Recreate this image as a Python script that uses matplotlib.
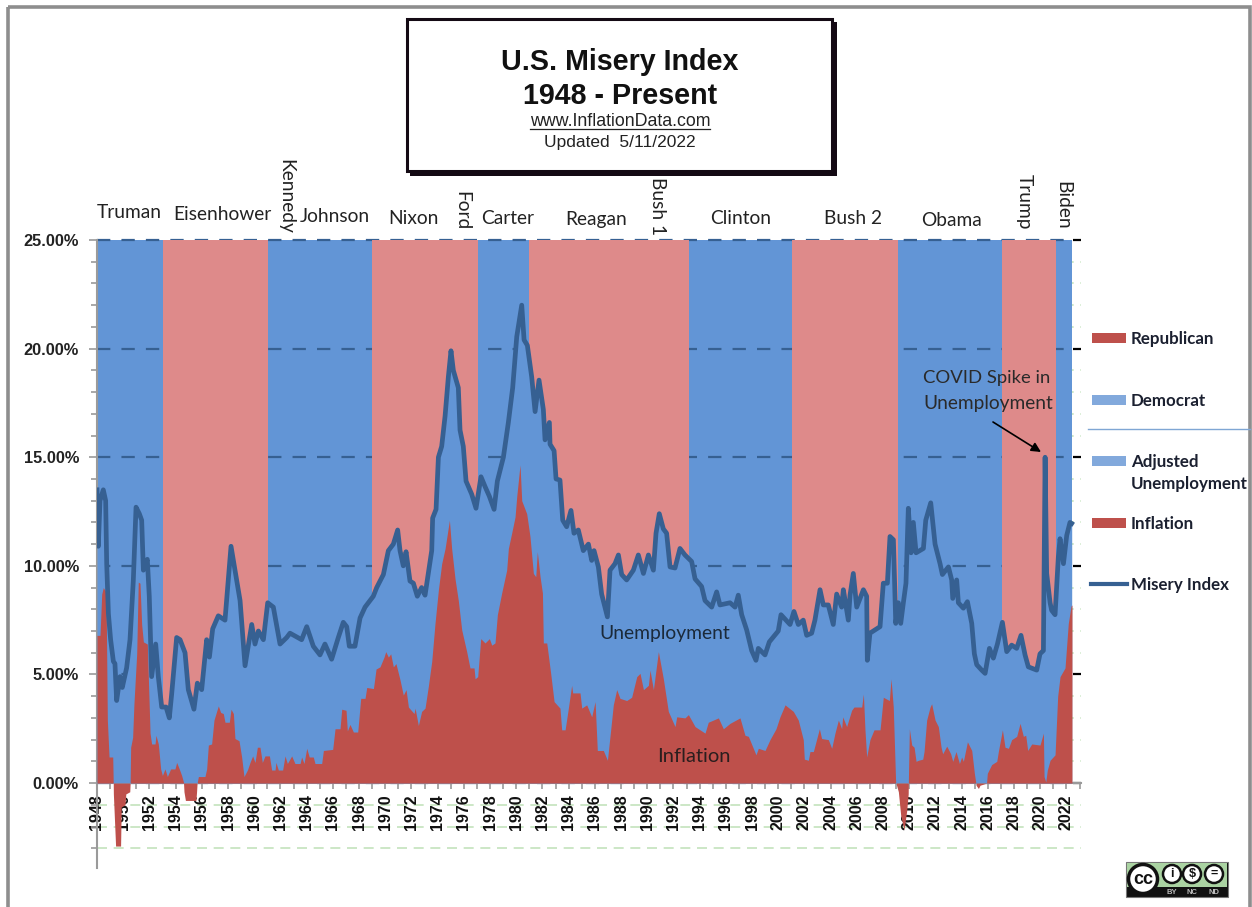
import matplotlib
matplotlib.use("Agg")
import matplotlib.pyplot as plt
from matplotlib.patches import Rectangle, Circle
from matplotlib.ticker import FixedLocator, MultipleLocator, FormatStrFormatter

# party control: start of each term band, last value closes the series
term_starts = [1948.0, 1953.05, 1961.05, 1969.0, 1977.08, 1981.0, 1993.2, 2001.05, 2009.15, 2017.1, 2021.2, 2022.45]
term_party = ["D", "R", "D", "R", "D", "R", "D", "R", "D", "R", "D"]

misery_years = [
    1948.00, 1948.10, 1948.23, 1948.48, 1948.66, 1948.74, 1948.87, 1949.04, 1949.25, 1949.37, 1949.50, 1949.76,
    1949.93, 1950.26, 1950.52, 1950.77, 1950.98, 1951.23, 1951.41, 1951.54, 1951.84, 1951.99, 1952.17, 1952.48,
    1952.68, 1952.94, 1953.27, 1953.52, 1953.70, 1954.08, 1954.34, 1954.72, 1954.97, 1955.40, 1955.66, 1955.99,
    1956.37, 1956.58, 1956.83, 1957.26, 1957.77, 1958.23, 1958.53, 1958.92, 1959.30, 1959.81, 1960.06, 1960.32,
    1960.70, 1961.03, 1961.46, 1961.97, 1962.48, 1962.73, 1963.62, 1964.01, 1964.51, 1965.02, 1965.40, 1965.91,
    1966.42, 1966.80, 1967.06, 1967.26, 1967.69, 1968.08, 1968.46, 1969.09, 1969.35, 1969.86, 1970.24, 1970.62,
    1970.95, 1971.13, 1971.38, 1971.59, 1971.89, 1972.15, 1972.45, 1972.78, 1973.04, 1973.55, 1973.62, 1973.88,
    1974.06, 1974.31, 1974.57, 1974.82, 1975.02, 1975.20, 1975.58, 1975.71, 1975.96, 1976.17, 1976.60, 1976.93,
    1977.31, 1977.62, 1977.95, 1978.31, 1978.56, 1979.02, 1979.40, 1979.73, 1980.04, 1980.42, 1980.60, 1980.85,
    1981.18, 1981.44, 1981.74, 1982.07, 1982.20, 1982.53, 1982.58, 1982.89, 1983.04, 1983.34, 1983.55, 1983.85,
    1984.18, 1984.41, 1984.74, 1985.12, 1985.51, 1985.76, 1985.94, 1986.27, 1986.52, 1986.96, 1987.16, 1987.54,
    1987.80, 1988.05, 1988.43, 1988.94, 1989.32, 1989.71, 1990.09, 1990.47, 1990.67, 1990.92, 1991.23, 1991.48,
    1991.74, 1992.12, 1992.50, 1992.88, 1993.39, 1993.65, 1994.15, 1994.41, 1994.92, 1995.30, 1995.55, 1996.32,
    1996.70, 1996.95, 1997.21, 1997.59, 1997.97, 1998.30, 1998.48, 1998.99, 1999.32, 2000.00, 2000.21, 2000.90,
    2001.20, 2001.53, 2001.91, 2002.17, 2002.55, 2002.80, 2003.19, 2003.44, 2003.82, 2004.20, 2004.46, 2004.84,
    2004.97, 2005.35, 2005.48, 2005.73, 2005.99, 2006.50, 2006.75, 2006.80, 2007.00, 2007.77, 2008.02, 2008.33,
    2008.53, 2008.79, 2008.97, 2009.17, 2009.35, 2009.55, 2009.75, 2009.93, 2010.14, 2010.31, 2010.52, 2011.08,
    2011.26, 2011.64, 2011.97, 2012.35, 2012.53, 2012.99, 2013.24, 2013.32, 2013.62, 2013.75, 2014.13, 2014.44,
    2014.77, 2014.97, 2015.15, 2015.53, 2015.79, 2016.12, 2016.42, 2016.73, 2017.11, 2017.44, 2017.82, 2018.20,
    2018.53, 2018.84, 2019.09, 2019.73, 2019.98, 2020.24, 2020.37, 2020.49, 2020.75, 2020.87, 2021.13, 2021.38,
    2021.51, 2021.77, 2022.02, 2022.27, 2022.40,
]
misery_values = [
    13.5, 10.9, 13.0, 13.5, 13.0, 10.1, 7.8, 6.6, 5.6, 5.5, 3.8, 4.9,
    4.4, 5.3, 6.6, 9.3, 12.7, 12.4, 12.1, 9.8, 10.3, 8.6, 4.9, 6.4,
    4.9, 3.5, 3.5, 3.0, 4.1, 6.7, 6.6, 6.0, 4.3, 3.4, 4.6, 4.3,
    6.6, 5.8, 7.1, 7.7, 7.5, 10.9, 9.8, 8.4, 5.4, 7.3, 6.4, 7.0,
    6.6, 8.3, 8.1, 6.4, 6.7, 6.9, 6.6, 7.2, 6.3, 5.9, 6.4, 5.7,
    6.7, 7.4, 7.2, 6.3, 6.3, 7.6, 8.1, 8.6, 9.0, 9.6, 10.7, 11.0,
    11.65, 10.7, 10.0, 10.65, 9.3, 9.2, 8.6, 9.0, 8.65, 10.7, 12.2, 12.6,
    15.0, 15.5, 16.9, 18.7, 19.9, 19.0, 18.2, 16.25, 15.5, 13.9, 13.3, 12.65,
    14.1, 13.65, 13.2, 12.6, 13.9, 15.0, 16.6, 18.2, 20.55, 22.0, 20.4, 20.15,
    18.7, 17.1, 18.55, 17.2, 15.8, 16.6, 15.6, 15.3, 14.0, 13.95, 12.1, 11.8,
    12.55, 11.5, 11.65, 10.7, 11.0, 10.25, 10.7, 9.95, 8.7, 7.65, 9.8, 10.1,
    10.5, 9.6, 9.35, 9.8, 10.5, 9.65, 10.5, 9.8, 11.5, 12.4, 11.7, 11.5,
    9.95, 9.9, 10.8, 10.5, 10.2, 9.4, 9.05, 8.4, 8.1, 8.8, 8.2, 8.3,
    8.1, 8.65, 7.75, 7.05, 6.1, 5.65, 6.2, 5.9, 6.5, 7.0, 7.75, 7.3,
    7.9, 7.3, 7.5, 6.8, 6.9, 7.5, 8.9, 8.2, 8.2, 7.3, 8.7, 8.1,
    8.9, 7.5, 8.65, 9.65, 8.1, 8.9, 8.6, 5.65, 6.9, 7.2, 9.2, 9.2,
    11.35, 11.2, 7.35, 8.3, 7.35, 8.3, 9.2, 12.65, 10.6, 12.0, 10.6, 10.8,
    12.1, 12.9, 11.0, 10.1, 9.6, 9.95, 9.35, 8.5, 9.35, 8.3, 8.05, 8.35,
    7.35, 5.95, 5.45, 5.2, 5.05, 6.2, 5.75, 6.4, 7.4, 6.05, 6.35, 6.2,
    6.8, 5.9, 5.35, 5.2, 5.95, 6.1, 15.0, 9.65, 8.3, 7.95, 7.75, 10.4,
    11.25, 10.1, 11.4, 12.0, 11.95,
]

inflation_years = [
    1948.00, 1948.23, 1948.36, 1948.48, 1948.69, 1948.79, 1948.92, 1949.20, 1949.24, 1949.25, 1949.42, 1949.80,
    1949.85, 1950.14, 1950.20, 1950.50, 1950.53, 1950.57, 1950.72, 1950.82, 1951.03, 1951.15, 1951.28, 1951.41,
    1951.54, 1951.84, 1952.05, 1952.17, 1952.43, 1952.50, 1952.68, 1952.86, 1952.99, 1953.19, 1953.37, 1953.62,
    1953.95, 1954.08, 1954.28, 1954.46, 1954.60, 1954.64, 1954.75, 1955.55, 1955.60, 1955.64, 1955.74, 1956.24,
    1956.37, 1956.50, 1956.75, 1956.93, 1957.13, 1957.26, 1957.44, 1957.64, 1957.77, 1958.10, 1958.23, 1958.41,
    1958.53, 1958.84, 1959.04, 1959.22, 1959.48, 1959.68, 1959.88, 1960.06, 1960.24, 1960.44, 1960.62, 1960.82,
    1961.16, 1961.33, 1961.59, 1961.66, 1961.84, 1962.17, 1962.35, 1962.53, 1962.86, 1963.11, 1963.50, 1963.62,
    1963.80, 1964.01, 1964.20, 1964.51, 1964.64, 1965.15, 1965.28, 1965.99, 1966.17, 1966.55, 1966.68, 1967.01,
    1967.11, 1967.31, 1967.57, 1967.90, 1968.13, 1968.46, 1968.59, 1969.10, 1969.30, 1969.60, 1969.91, 1970.04,
    1970.24, 1970.42, 1970.62, 1970.82, 1971.13, 1971.38, 1971.59, 1971.77, 1972.20, 1972.28, 1972.53, 1972.78,
    1973.04, 1973.29, 1973.55, 1973.80, 1974.06, 1974.31, 1974.57, 1974.90, 1975.07, 1975.33, 1975.58, 1975.84,
    1976.22, 1976.47, 1976.78, 1976.86, 1977.06, 1977.29, 1977.62, 1977.95, 1978.13, 1978.38, 1978.56, 1978.89,
    1979.27, 1979.40, 1979.65, 1979.91, 1980.04, 1980.29, 1980.42, 1980.80, 1981.05, 1981.31, 1981.49, 1981.61,
    1981.82, 1982.00, 1982.07, 1982.33, 1982.63, 1982.89, 1983.34, 1983.47, 1983.73, 1983.98, 1984.23, 1984.31,
    1984.87, 1985.00, 1985.38, 1985.76, 1986.02, 1986.19, 1986.65, 1986.96, 1987.21, 1987.41, 1987.67, 1987.92,
    1988.43, 1988.81, 1989.20, 1989.45, 1989.71, 1990.09, 1990.21, 1990.47, 1990.85, 1991.23, 1991.61, 1992.12,
    1992.25, 1992.88, 1993.14, 1993.65, 1994.41, 1994.66, 1995.43, 1995.81, 1996.32, 1997.08, 1997.46, 1997.72,
    1998.30, 1998.48, 1998.99, 1999.37, 1999.83, 2000.13, 2000.52, 2001.15, 2001.53, 2001.91, 2001.99, 2002.30,
    2002.42, 2002.68, 2003.14, 2003.31, 2003.82, 2004.08, 2004.33, 2004.59, 2004.84, 2004.92, 2005.22, 2005.60,
    2005.78, 2006.37, 2006.50, 2006.62, 2006.75, 2007.00, 2007.31, 2007.77, 2008.02, 2008.48, 2008.61, 2008.78,
    2008.96, 2009.17, 2009.35, 2009.60, 2009.80, 2009.92, 2009.93, 2010.01, 2010.19, 2010.37, 2010.52, 2010.70,
    2011.03, 2011.13, 2011.33, 2011.59, 2011.71, 2011.97, 2012.22, 2012.43, 2012.55, 2012.86, 2013.16, 2013.32,
    2013.57, 2013.83, 2014.00, 2014.13, 2014.44, 2014.77, 2014.97, 2015.07, 2015.10, 2015.28, 2015.40, 2015.66,
    2015.90, 2015.96, 2016.29, 2016.68, 2016.80, 2017.11, 2017.31, 2017.57, 2017.82, 2018.20, 2018.46, 2018.71,
    2018.89, 2019.04, 2019.35, 2019.98, 2020.24, 2020.29, 2020.42, 2020.54, 2020.75, 2021.13, 2021.33, 2021.51,
    2021.89, 2022.14, 2022.35, 2022.42,
]
inflation_values = [
    6.8, 6.8, 8.7, 9.0, 8.8, 2.9, 1.2, 1.2, 0.0, -0.5, -2.9, -2.9,
    -1.1, -1.0, -0.5, -0.4, 0.0, 1.65, 2.1, 3.65, 5.95, 9.25, 9.2, 7.3,
    6.5, 6.4, 2.3, 1.8, 1.8, 2.2, 1.8, 0.65, 0.35, 0.65, 0.3, 0.65,
    0.65, 0.95, 0.65, 0.35, 0.05, -0.4, -0.8, -0.8, -0.4, 0.0, 0.3, 0.3,
    0.65, 1.75, 1.8, 2.9, 3.3, 3.55, 3.25, 3.2, 2.8, 2.8, 3.4, 3.2,
    2.05, 1.95, 1.2, 0.3, 0.6, 0.95, 1.25, 0.95, 1.65, 1.65, 0.95, 1.25,
    1.25, 0.6, 0.6, 0.95, 0.6, 0.6, 1.25, 0.9, 1.25, 0.9, 0.9, 1.2,
    0.9, 1.6, 1.2, 1.2, 0.9, 0.9, 1.5, 1.55, 2.5, 2.5, 3.4, 3.35,
    2.4, 2.7, 2.35, 2.35, 3.9, 3.9, 4.4, 4.35, 5.25, 5.35, 5.8, 6.05,
    5.8, 5.95, 5.35, 5.5, 4.75, 4.05, 4.3, 3.5, 3.2, 3.45, 2.65, 3.3,
    3.45, 4.45, 5.6, 7.35, 8.9, 10.1, 10.8, 12.1, 10.8, 9.4, 8.4, 7.05,
    6.05, 5.3, 5.3, 4.8, 4.9, 6.65, 6.45, 6.65, 6.35, 6.45, 7.75, 8.75,
    9.8, 10.8, 11.5, 12.25, 13.2, 14.65, 13.0, 12.4, 11.35, 9.65, 9.5, 10.65,
    9.5, 8.75, 6.45, 6.45, 5.05, 3.75, 3.45, 2.45, 2.45, 3.45, 4.5, 4.15,
    4.15, 3.45, 3.6, 3.05, 3.75, 1.5, 1.5, 1.05, 2.45, 3.6, 4.3, 3.9,
    3.8, 3.95, 4.9, 5.05, 4.3, 4.5, 5.2, 4.3, 6.05, 4.8, 3.3, 2.6,
    3.05, 3.0, 3.15, 2.6, 2.3, 2.8, 3.0, 2.5, 2.75, 3.0, 2.2, 2.15,
    1.3, 1.6, 1.5, 2.0, 2.5, 3.05, 3.6, 3.3, 2.9, 2.0, 1.1, 1.05,
    1.45, 1.45, 2.5, 2.05, 2.0, 1.6, 2.3, 2.9, 2.5, 3.05, 2.6, 3.35,
    3.5, 3.5, 4.1, 2.45, 1.2, 2.0, 2.45, 2.45, 3.95, 3.8, 4.8, 3.5,
    0.05, -0.4, -1.5, -2.15, -1.3, -0.5, 0.0, 2.5, 1.75, 1.65, 1.0, 1.05,
    1.1, 1.45, 2.9, 3.5, 3.65, 2.9, 2.6, 1.65, 1.35, 1.7, 1.35, 1.0,
    1.45, 0.9, 1.2, 1.0, 1.9, 1.5, 0.45, 0.05, -0.1, -0.25, -0.1, -0.05,
    0.0, 0.45, 0.85, 1.0, 1.45, 2.45, 1.65, 1.6, 2.0, 2.15, 2.75, 2.15,
    2.2, 1.5, 1.8, 1.75, 2.3, 0.3, 0.05, 0.6, 1.05, 1.3, 4.0, 4.9,
    5.3, 7.35, 8.15, 8.2,
]

# president names with label centre in picture pixels
flat_names = ["Truman", "Eisenhower", "Johnson", "Nixon", "Carter", "Reagan", "Clinton", "Bush 2", "Obama"]
flat_x = [129, 222, 335, 413, 508, 596, 741, 853, 951]
flat_y = [213, 215, 217, 218, 218, 219, 219, 219, 221]
turned_names = ["Kennedy", "Ford", "Bush 1", "Trump", "Biden"]
turned_x = [286, 462, 658, 1024, 1063]
turned_y = [196, 211, 206, 202, 205]

DEM = "#6295D6"
REP = "#DE8A8A"
INFL = "#BE504B"
LINE = "#366092"
GREY = "#9A9A9A"
GREEN = "#C4E3BC"
W, H = 1252, 907
YMIN, YMAX = -3.91, 25

fig = plt.figure(figsize=(W / 100, H / 100), dpi=100, facecolor="white")

# overlay in picture pixels for the frame, title box and legend
page = fig.add_axes([0, 0, 1, 1], zorder=5)
page.set_xlim(0, W)
page.set_ylim(H, 0)
page.axis("off")

ax = fig.add_axes([97 / W, 1 - 868 / H, (1081 - 97) / W, (868 - 240) / H], zorder=1)
ax.set_xlim(1948, 2023.11)
ax.set_ylim(YMIN, YMAX)
ax.patch.set_alpha(0)

for i, party in enumerate(term_party):
    # grid shows over the blue bands only, the red ones hide it
    ax.axvspan(term_starts[i], term_starts[i + 1], ymin=-YMIN / (YMAX - YMIN), ymax=1,
               color=DEM if party == "D" else REP, lw=0, zorder=1 if party == "D" else 2)

xend = term_starts[-1]
for v in range(-3, 25):
    if v % 5:
        ax.hlines(v, 1948, 2023.11, color=GREEN, lw=1.2, linestyles=(0, (6, 4)), zorder=0.5)
for v in range(0, 30, 5):
    ax.hlines(v, 1948, xend, color=LINE, lw=1.6, linestyles=(0, (6, 5)), zorder=1.5, clip_on=False)
    ax.hlines(v, xend + 0.05, 2023.11, color="black", lw=1.6, zorder=1.5, clip_on=False)

ax.fill_between(misery_years, 0, misery_values, color=DEM, lw=0, zorder=3)
ax.fill_between(inflation_years, 0, inflation_values, color=INFL, lw=0, zorder=3.2)
ax.plot(misery_years, misery_values, color=LINE, lw=3.4, solid_joinstyle="round", zorder=4)

for s in ["top", "right"]:
    ax.spines[s].set_visible(False)
ax.spines["bottom"].set_position(("data", 0))
ax.spines["bottom"].set_color(GREY)
ax.spines["bottom"].set_linewidth(1.5)
ax.spines["left"].set_color(GREY)
ax.spines["left"].set_linewidth(1.5)

ax.xaxis.set_major_locator(MultipleLocator(2))
ax.xaxis.set_minor_locator(MultipleLocator(1))
ax.xaxis.set_major_formatter(FormatStrFormatter("%d"))
ax.yaxis.set_major_locator(FixedLocator(list(range(0, 30, 5))))
ax.yaxis.set_minor_locator(FixedLocator(list(range(-3, 25))))
ax.yaxis.set_major_formatter(FormatStrFormatter("%.2f%%"))
ax.tick_params(axis="x", which="both", length=4, width=1.2, color=GREY, direction="out")
ax.tick_params(axis="x", which="major", pad=4)
ax.tick_params(axis="y", which="major", length=6, width=1.2, color=GREY, pad=7)
ax.tick_params(axis="y", which="minor", length=4, width=1.2, color=GREY)
for t in ax.get_xticklabels():
    t.set(rotation=90, fontsize=11.5, fontweight="bold", family="Liberation Sans", ha="center", va="top", color="#111111")
for t in ax.get_yticklabels():
    t.set(fontsize=11.8, fontweight="bold", family="Liberation Sans", color="#222222")

# frame and title box
page.add_patch(Rectangle((8, 7), 1242, 930, fill=False, ec="#8E8E8E", lw=2.6))
page.add_patch(Rectangle((410, 22), 427, 154, fc="#140A14", ec="none"))
page.add_patch(Rectangle((407, 19), 425, 152, fc="white", ec="#140A14", lw=2.2))
page.text(620, 62, "U.S. Misery Index", ha="center", va="center", family="Liberation Sans", fontweight="bold", fontsize=20.6, color="#111111")
page.text(620, 96, "1948 - Present", ha="center", va="center", family="Liberation Sans", fontweight="bold", fontsize=20.6, color="#111111")
page.text(620, 121, "www.InflationData.com", ha="center", va="center", family="Liberation Sans", fontsize=12.8, color="#222222")
page.plot([530, 710], [128.5, 128.5], color="#222222", lw=0.9)
page.text(620, 143, "Updated  5/11/2022", ha="center", va="center", family="Liberation Sans", fontsize=12.5, color="#222222")

for name, x, y in zip(flat_names, flat_x, flat_y):
    page.text(x, y, name, ha="center", va="center", family="Lato", fontsize=13.8, color="#222222")
for name, x, y in zip(turned_names, turned_x, turned_y):
    page.text(x, y, name, ha="center", va="center", rotation=-90, family="Lato", fontsize=13.8, color="#222222")

page.text(665, 634, "Unemployment", ha="center", va="center", family="Lato", fontsize=13.9, color="#1B2A3A")
page.text(694, 757, "Inflation", ha="center", va="center", family="Lato", fontsize=14.5, color="#2A1E1E")
page.text(923, 378, "COVID Spike in", ha="left", va="center", family="Lato", fontsize=13.3, color="#2A2A2A")
page.text(923, 403, "Unemployment", ha="left", va="center", family="Lato", fontsize=13.8, color="#2A2A2A")
page.annotate("", xy=(1041, 452), xytext=(993, 422), arrowprops=dict(arrowstyle="-|>", color="black", lw=1.2, mutation_scale=14, shrinkA=0, shrinkB=0))

# legend
legend_rows = [("Republican", 338, INFL), ("Democrat", 400, "#82A9DC"), ("Adjusted", 461, "#82A9DC"), ("Inflation", 523, INFL)]
for label, y, c in legend_rows:
    page.add_patch(Rectangle((1092, y - 5), 34, 10, fc=c, ec="none"))
    page.text(1131, y + 1, label, ha="left", va="center", family="Lato", fontweight="bold", fontsize=12.2, color="#1B2030")
page.text(1131, 484, "Unemployment", ha="left", va="center", family="Lato", fontweight="bold", fontsize=12.2, color="#1B2030")
page.plot([1091, 1127], [584, 584], color=LINE, lw=3)
page.text(1131, 585, "Misery Index", ha="left", va="center", family="Lato", fontweight="bold", fontsize=12.2, color="#1B2030")
page.plot([1088, 1250], [429, 429], color="#7FA6D4", lw=1)

# licence badge
page.add_patch(Rectangle((1126, 862), 102, 35, fc="#111111", ec="#777777", lw=0.8))
page.add_patch(Rectangle((1127, 863), 100, 24, fc="#AAD3A2", ec="none"))
page.add_patch(Circle((1143, 879), 14.5, fc="white", ec="#111111", lw=2.5, zorder=3))
page.text(1143, 879, "cc", ha="center", va="center", family="Liberation Sans", fontweight="bold", fontsize=13, color="#111111", zorder=4)
for cx, glyph, tag in zip([1172, 1192, 1214], ["i", "$", "="], ["BY", "NC", "ND"]):
    page.add_patch(Circle((cx, 874), 9, fc="white", ec="#111111", lw=1.8, zorder=3))
    page.text(cx, 874, glyph, ha="center", va="center", family="Liberation Sans", fontweight="bold", fontsize=9, color="#111111", zorder=4)
    page.text(cx, 892, tag, ha="center", va="center", family="Liberation Sans", fontweight="bold", fontsize=5.5, color="#BBBBBB", zorder=4)

fig.savefig("out.png", dpi=100)
